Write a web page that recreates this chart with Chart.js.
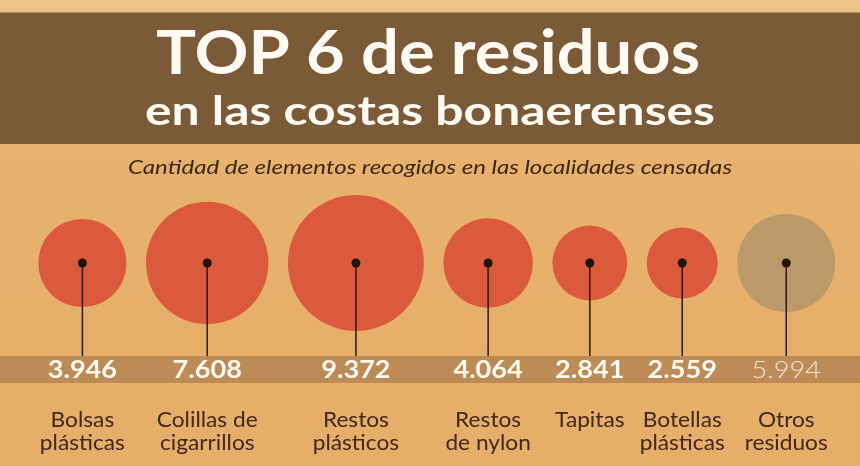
<!DOCTYPE html>
<html>
<head>
<meta charset="utf-8">
<script src="https://cdn.jsdelivr.net/npm/chart.js@4.4.1/dist/chart.umd.min.js"></script>
<style>
html, body { margin: 0; padding: 0; background: #e6b06b; }
#contenedor { width: 860px; height: 466px; }
</style>
</head>
<body>
<div id="contenedor"><canvas id="grafico-residuos" width="860" height="466"></canvas></div>
<script>
// Datos
const categorias = [
    ["Bolsas", "plásticas"],
    ["Colillas de", "cigarrillos"],
    ["Restos", "plásticos"],
    ["Restos", "de nylon"],
    ["Tapitas"],
    ["Botellas", "plásticas"],
    ["Otros", "residuos"]
];
const cantidades = [3946, 7608, 9372, 4064, 2841, 2559, 5994];
const etiquetasValor = ["3.946", "7.608", "9.372", "4.064", "2.841", "2.559", "5.994"];
const esOtros = [false, false, false, false, false, false, true];

const titulo = ["TOP 6 de residuos", "en las costas bonaerenses"];
const subtitulo = "Cantidad de elementos recogidos en las localidades censadas";

// Estilo / maquetación
const ANCHO = 860, ALTO = 466;
const FILA_Y = 263;
const ESCALA_R = 0.702;       // radio = k * sqrt(cantidad)
const ESCALA_R_OTROS = 0.633;
const SEPARACION = 19.5;
const INICIO_X = 38.3;
const BANDA_VALOR = { top: 356, bottom: 383 };
const ROJO = "#db5a3b";
const GRIS = "#bb9969";

const radios = cantidades.map((v, i) => (esOtros[i] ? ESCALA_R_OTROS : ESCALA_R) * Math.sqrt(v));

// Posiciones x: círculos empaquetados uno al lado del otro
const posicionesX = [];
let cursor = INICIO_X;
radios.forEach(r => {
    posicionesX.push(cursor + r);
    cursor += 2 * r + SEPARACION;
});

const puntos = cantidades.map((v, i) => ({ x: posicionesX[i], y: FILA_Y, r: radios[i] }));

// dibuja un texto centrado, estirado en horizontal hasta un ancho dado
function textoAncho(ctx, texto, x, y, ancho) {
    const medido = ctx.measureText(texto).width;
    ctx.save();
    ctx.translate(x, y);
    ctx.scale(ancho / medido, 1);
    ctx.fillText(texto, 0, 0);
    ctx.restore();
}

function textoEstirado(ctx, texto, x, y, factor) {
    ctx.save();
    ctx.translate(x, y);
    ctx.scale(factor, 1);
    ctx.fillText(texto, 0, 0);
    ctx.restore();
}

const fondoPlugin = {
    id: "fondo",
    beforeDraw(chart) {
        const ctx = chart.ctx;
        ctx.save();
        const grad = ctx.createLinearGradient(0, 0, 0, ALTO);
        grad.addColorStop(0, "#eec38a");
        grad.addColorStop(0.35, "#e7b26e");
        grad.addColorStop(1, "#e5ae69");
        ctx.fillStyle = grad;
        ctx.fillRect(0, 0, ANCHO, ALTO);

        // banda del título
        ctx.fillStyle = "#7b5a37";
        ctx.fillRect(0, 12.5, ANCHO, 131.5);

        ctx.fillStyle = "#fffaf2";
        ctx.textAlign = "center";
        ctx.textBaseline = "alphabetic";
        ctx.font = "bold 62px Lato";
        textoAncho(ctx, titulo[0], 428, 74, 544);
        ctx.font = "bold 40px Lato";
        textoAncho(ctx, titulo[1], 430, 125, 570);

        ctx.fillStyle = "#3d2616";
        ctx.font = "italic 19.5px Lato";
        textoAncho(ctx, subtitulo, 430, 174, 604);

        // banda de valores
        ctx.fillStyle = "#bd8b55";
        ctx.fillRect(0, BANDA_VALOR.top, ANCHO, BANDA_VALOR.bottom - BANDA_VALOR.top);
        ctx.restore();
    }
};

const etiquetasPlugin = {
    id: "etiquetas",
    afterDatasetsDraw(chart) {
        const ctx = chart.ctx;
        const meta = chart.getDatasetMeta(0);
        ctx.save();
        meta.data.forEach((el, i) => {
            const x = el.x, y = el.y;
            ctx.strokeStyle = "#2a1a10";
            ctx.lineWidth = 1.5;
            ctx.beginPath();
            ctx.moveTo(x, y);
            ctx.lineTo(x, BANDA_VALOR.top);
            ctx.stroke();

            ctx.fillStyle = "#1e1410";
            ctx.beginPath();
            ctx.arc(x, y, 4.5, 0, Math.PI * 2);
            ctx.fill();

            ctx.textAlign = "center";
            ctx.textBaseline = "alphabetic";
            if (esOtros[i]) {
                ctx.font = "300 24px Lato";
                ctx.fillStyle = "rgba(255,250,242,0.85)";
            } else {
                ctx.font = "bold 24px Lato";
                ctx.fillStyle = "#fffaf2";
            }
            textoEstirado(ctx, etiquetasValor[i], x, 378, 1.13);

            ctx.font = "21px Lato";
            ctx.fillStyle = "#45261a";
            categorias[i].forEach((linea, j) => {
                textoEstirado(ctx, linea, x, 427 + j * 23, 1.08);
            });
        });
        ctx.restore();
    }
};

new Chart(document.getElementById("grafico-residuos").getContext("2d"), {
    type: "bubble",
    data: {
        datasets: [{
            label: "Cantidad de elementos",
            data: puntos,
            backgroundColor: cantidades.map((v, i) => esOtros[i] ? GRIS : ROJO),
            borderWidth: 0,
            hoverBorderWidth: 0
        }]
    },
    options: {
        responsive: false,
        animation: false,
        devicePixelRatio: 1,
        layout: { padding: 0, autoPadding: false },
        plugins: { legend: { display: false }, tooltip: { enabled: false } },
        scales: {
            x: { type: "linear", min: 0, max: ANCHO, display: false },
            y: { type: "linear", min: 0, max: ALTO, reverse: true, display: false }
        }
    },
    plugins: [fondoPlugin, etiquetasPlugin]
});
</script>
</body>
</html>
